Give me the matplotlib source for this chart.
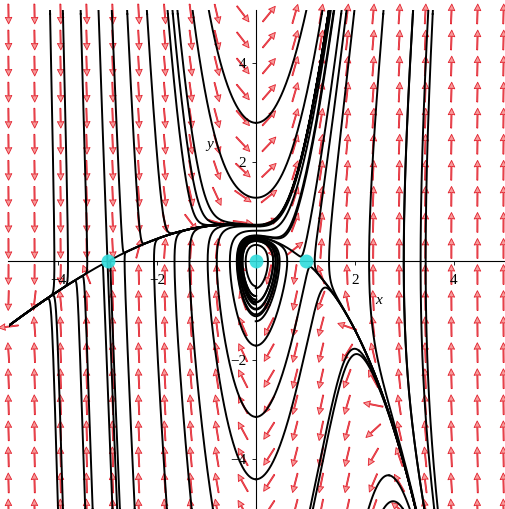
import numpy as np
import matplotlib.pyplot as plt

# system: x' = y,  y' = k*( x(x-1)(x+3) + (c + e*x)*x*y )
k, c, e = 1.2, 4.6, -0.9

# equilibria
eq_x = [-3, 0, 1]
eq_y = [0, 0, 0]

# starting points for the trajectories
top_x = [-4.16, -3.9, -3.54, -2.91, -2.6, -2.2, -1.78, -1.68, -1.58,
         1.33, 1.56, 1.72, 1.82, 1.98, 2.57, 3.17, 3.57]
top_y = 5.0
bot_x = [-4.0, -3.9, -3.45, -3.3, -2.9, -2.75, -2.45, -1.8, -1.3, -0.87,
         1.15, 2.97, 3.4, 3.6]
bot_y = -5.0
axis_y = [-0.5, -0.7, -0.87, -1.07, -1.7, -3.14, -4.4, 2.8]
arch_x = [2.08, 2.69]
arch_y = [-1.8, -4.32]


def field(x, y):
    return y, k * (x * (x - 1) * (x + 3) + (c + e * x) * x * y)


def direction(x, y, s):
    u, v = field(x, y)
    n = np.hypot(u, v)
    return s * u / n, s * v / n, n


def trace(x0, y0, s, h=0.01, nmax=5000, loops=2):
    # arc-length RK4; stops after `loops` passes under the origin
    xs, ys = [x0], [y0]
    x, y = x0, y0
    passes = 0
    for i in range(nmax):
        a1, b1, n = direction(x, y, s)
        if n < 0.02:
            break
        a2, b2, _ = direction(x + h / 2 * a1, y + h / 2 * b1, s)
        a3, b3, _ = direction(x + h / 2 * a2, y + h / 2 * b2, s)
        a4, b4, _ = direction(x + h * a3, y + h * b3, s)
        xn = x + h / 6 * (a1 + 2 * a2 + 2 * a3 + a4)
        yn = y + h / 6 * (b1 + 2 * b2 + 2 * b3 + b4)
        xs.append(xn)
        ys.append(yn)
        if i > 20 and x * xn <= 0 and x != 0 and yn < 0:
            passes += 1
            if passes >= loops:
                return np.array(xs), np.array(ys), True
        x, y = xn, yn
        if abs(x) > 5.3 or abs(y) > 5.4:
            break
    return np.array(xs), np.array(ys), False


curves = []
for x0 in top_x:
    for s in (1, -1):
        curves.append(trace(x0, top_y, s)[:2])
for x0 in bot_x:
    for s in (1, -1):
        curves.append(trace(x0, bot_y, s)[:2])
for y0 in axis_y:
    xs, ys, closed = trace(1e-6, y0, 1, loops=1)
    curves.append((xs, ys))
    if not closed:
        curves.append(trace(0.0, y0, -1)[:2])
for x0, y0 in zip(arch_x, arch_y):
    for s in (1, -1):
        curves.append(trace(x0, y0, s)[:2])

# separatrices of the two saddles
for xe in (-3, 1):
    jac = np.array([[0.0, 1.0],
                    [k * (3 * xe ** 2 + 4 * xe - 3), k * (c + e * xe) * xe]])
    vals, vecs = np.linalg.eig(jac)
    for lam, vec in zip(vals, vecs.T):
        s = 1 if lam > 0 else -1
        for sign in (1, -1):
            p = np.array([xe, 0.0]) + sign * 2e-3 * vec
            curves.append(trace(p[0], p[1], s)[:2])

# direction field
gx = np.linspace(-5, 5, 20)
gy = np.linspace(-5, 5, 20)
X, Y = np.meshgrid(gx, gy)
U, V = field(X, Y)
N = np.hypot(U, V)
U, V = 0.4 * U / N, 0.4 * V / N

plt.rcParams['font.family'] = 'Liberation Serif'
fig = plt.figure(figsize=(5.06, 5.09), dpi=100)
ax = fig.add_axes([8.5 / 506, 0, 495 / 506, 499.5 / 509])

q = ax.quiver(X, Y, U, V, angles='xy', scale_units='xy', scale=1, pivot='mid',
              color='#f79a9a', edgecolor='#e2222e', linewidth=0.6,
              width=0.0022, headwidth=6, headlength=6, headaxislength=5.5,
              zorder=1)
q.set_clip_on(False)

for xs, ys in curves:
    ax.plot(xs, ys, color='black', lw=1.4, zorder=2)

ax.plot(eq_x, eq_y, 'o', color='#30dcdc', ms=10, mec='none', alpha=0.9, zorder=3)

ax.set_xlim(-5, 5)
ax.set_ylim(-5, 5.09)
ax.spines['left'].set_position(('data', 0))
ax.spines['bottom'].set_position(('data', 0))
ax.spines['top'].set_visible(False)
ax.spines['right'].set_visible(False)
for sp in ('left', 'bottom'):
    ax.spines[sp].set_linewidth(0.8)
ax.set_xticks([-4, -2, 2, 4])
ax.set_yticks([-4, -2, 2, 4])
ax.tick_params(axis='x', length=3, width=0.6, pad=6, labelsize=11)
ax.tick_params(axis='y', length=3, width=0.6, pad=4, labelsize=11)
ax.text(2.47, -0.78, 'x', fontsize=11, style='italic', ha='center', va='center')
ax.text(-0.93, 2.37, 'y', fontsize=11, style='italic', ha='center', va='center')
ax.patch.set_alpha(0)

fig.savefig('out.png', dpi=100)
